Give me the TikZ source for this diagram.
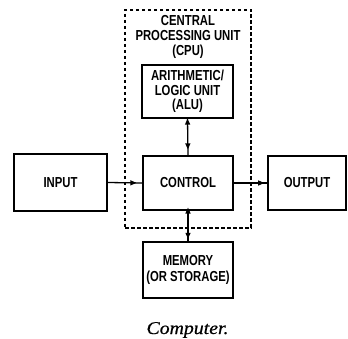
\documentclass[tikz,border=0pt]{standalone}
\usepackage{fontspec}
\usepackage{graphicx}
\newfontfamily\lblfont[FakeStretch=0.78]{Liberation Sans}
\newfontfamily\capfont[FakeStretch=1.1,FakeBold=0.6]{Liberation Serif}
\usetikzlibrary{arrows.meta,decorations.markings}

\tikzset{
  unitbox/.style={draw, line width=1.6pt, inner sep=0pt, align=center,
    font=\lblfont\bfseries\fontsize{14.5}{15}\selectfont},
  cpubox/.style={draw, line width=1.1pt, dash pattern=on 3.5pt off 2.5pt, inner sep=0pt},
  lbl/.style={inner sep=0pt, align=center, font=\lblfont\bfseries\fontsize{14.5}{15}\selectfont},
  oneway/.style={line width=1.3pt, postaction=decorate,
    decoration={markings, mark=at position #1 with {\arrow{Triangle[length=6pt,width=5pt]}}}},
  twoway/.style n args={2}{line width=1.3pt, postaction=decorate,
    decoration={markings,
      mark=at position #1 with {\arrow{Triangle[length=6pt,width=5pt,reversed]}},
      mark=at position #2 with {\arrow{Triangle[length=6pt,width=5pt]}}}}
}

\begin{document}
\begin{tikzpicture}[x=1pt,y=-1pt]
  \useasboundingbox (0,0) rectangle (348,339);
  \fill[white] (0,0) rectangle (348,339);

  % central processing unit enclosure
  \node[cpubox, minimum width=126pt, minimum height=218pt] (cpu) at (188,119) {};
  \node[lbl] (cpulabel) at (188,37) {CENTRAL\\PROCESSING UNIT\\(CPU)};

  % functional units
  \node[unitbox, minimum width=91pt, minimum height=53pt] (alu) at (187.5,91.5)
    {ARITHMETIC/\\[-0.5pt]LOGIC UNIT\\[-0.5pt](ALU)};
  \node[unitbox, minimum width=93pt, minimum height=57pt] (input) at (60.5,182.5) {INPUT};
  \node[unitbox, minimum width=90pt, minimum height=54pt] (ctrl) at (188,183) {CONTROL};
  \node[unitbox, minimum width=78pt, minimum height=54pt] (output) at (307,183) {OUTPUT};
  \node[unitbox, minimum width=90pt, minimum height=56pt] (mem) at (188,270)
    {MEMORY\\[1pt](OR STORAGE)};

  % data paths
  \draw[oneway=0.83] (input.east) -- (ctrl.west);
  \draw[oneway=0.91] (ctrl.east) -- (output.west);
  \draw[twoway={0.16}{0.84}] (alu.south) -- (ctrl.north);
  \draw[twoway={0.09}{0.92}] (ctrl.south) -- (mem.north);

  % caption
  \node[anchor=base, inner sep=0pt, font=\capfont\itshape\fontsize{18}{20}\selectfont]
    (caption) at (187.5,334) {Computer.};
\end{tikzpicture}
\end{document}
